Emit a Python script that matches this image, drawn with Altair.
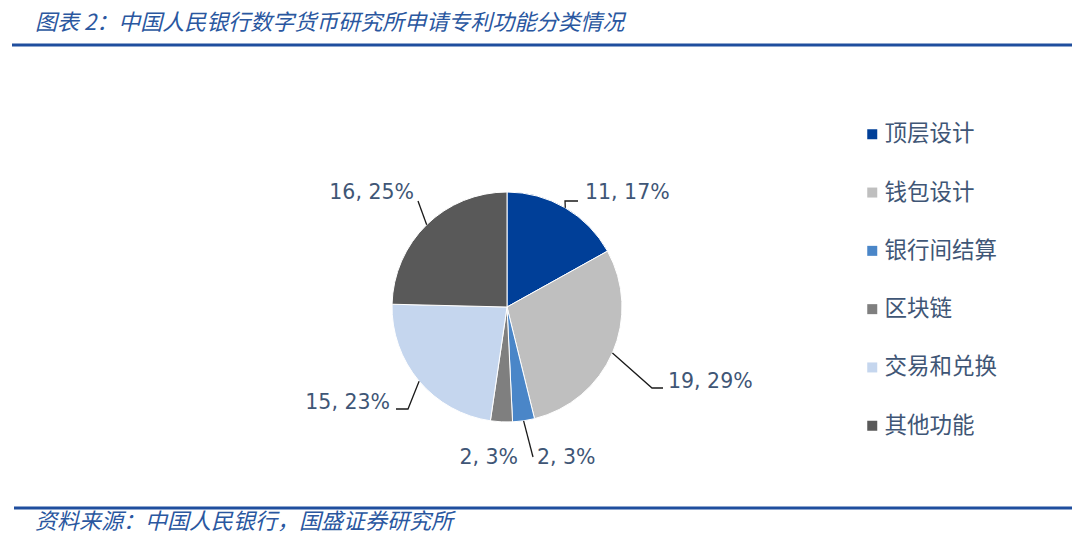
import altair as alt
import pandas as pd
import math

# ---- data ----
categories = ["顶层设计", "钱包设计", "银行间结算", "区块链", "交易和兑换", "其他功能"]
counts = [11, 19, 2, 2, 15, 16]
colors = ["#003F98", "#BFBFBF", "#4A86C8", "#7F7F7F", "#C5D6EE", "#595959"]

title_text = "图表 2：中国人民银行数字货币研究所申请专利功能分类情况"
source_text = "资料来源：中国人民银行，国盛证券研究所"

# ---- layout (pixels, chart coordinates) ----
W, H = 1064, 534
CX, CY, R = 499, 299, 115
TEXT_COLOR = "#3F5676"
BLUE = "#1F4E9E"

# label layout per slice: text anchor offset from pie centre, alignment,
# leader-line elbow and end offsets (None = no leader line)
label_layout = [
    dict(tx=78, ty=-114, align="left", elbow=(58, -106), end=(71, -106)),
    dict(tx=161, ty=75, align="left", elbow=(145, 81), end=(156, 81)),
    dict(tx=30, ty=151, align="left", elbow=(26, 150), end=(26, 150)),
    dict(tx=11, ty=151, align="right", elbow=None, end=None),
    dict(tx=-117, ty=96, align="right", elbow=(-99, 102), end=(-111, 102)),
    dict(tx=-93, ty=-114, align="right", elbow=(-89, -106), end=(-89, -106)),
]

total = sum(counts)
df = pd.DataFrame({"cat": categories, "value": counts, "idx": range(len(categories))})

labels, lines = [], []
cum = 0
for i, (c, v) in enumerate(zip(categories, counts)):
    mid = (cum + v / 2) / total * 2 * math.pi
    cum += v
    lay = label_layout[i]
    labels.append(dict(cat=c, text=f"{v}, {round(v / total * 100)}%",
                       x=CX + lay["tx"], y=CY + lay["ty"], align=lay["align"]))
    if lay["elbow"] is not None:
        sx, sy = CX + R * math.sin(mid), CY - R * math.cos(mid)
        pts = [(sx, sy), (CX + lay["elbow"][0], CY + lay["elbow"][1]),
               (CX + lay["end"][0], CY + lay["end"][1])]
        for k, (px, py) in enumerate(pts):
            lines.append(dict(seg=c, k=k, x=px, y=py))

lab_df = pd.DataFrame(labels)
line_df = pd.DataFrame(lines)

pie = alt.Chart(df).mark_arc(outerRadius=R, stroke="white", strokeWidth=1).encode(
    theta=alt.Theta("value:Q", stack=True),
    order=alt.Order("idx:Q"),
    color=alt.Color(
        "cat:N",
        scale=alt.Scale(domain=categories, range=colors),
        legend=alt.Legend(
            orient="none", legendX=853, legendY=115, title=None,
            symbolType="square", symbolSize=100, symbolStrokeWidth=0,
            labelFont="Noto Sans CJK SC", labelFontSize=22.5, labelColor=TEXT_COLOR,
            labelOffset=1, rowPadding=35.3, padding=0,
        ),
    ),
    x=alt.value(CX),
    y=alt.value(CY),
)

leader = alt.Chart(line_df).mark_line(color="#1a1a1a", strokeWidth=1.3).encode(
    x=alt.X("x:Q", scale=None, axis=None),
    y=alt.Y("y:Q", scale=None, axis=None),
    detail="seg:N",
    order="k:Q",
)

def label_layer(align):
    return alt.Chart(lab_df).transform_filter(alt.datum.align == align).mark_text(
        align=align, baseline="middle", font="DejaVu Sans", fontSize=20.5, color=TEXT_COLOR
    ).encode(
        x=alt.X("x:Q", scale=None, axis=None),
        y=alt.Y("y:Q", scale=None, axis=None),
        text="text:N",
    )

title = alt.Chart(pd.DataFrame({"t": [title_text]})).mark_text(
    align="left", baseline="middle", font="Noto Sans CJK SC", fontSize=22,
    fontStyle="italic", color="#2A57A0",
).encode(x=alt.value(27), y=alt.value(15), text="t:N")

footer = alt.Chart(pd.DataFrame({"t": [source_text]})).mark_text(
    align="left", baseline="middle", font="Noto Sans CJK SC", fontSize=22,
    fontStyle="italic", color="#2A57A0",
).encode(x=alt.value(27), y=alt.value(514), text="t:N")

top_rule = alt.Chart(pd.DataFrame({"a": [0]})).mark_rule(color=BLUE, strokeWidth=3).encode(
    x=alt.value(4), x2=alt.value(W), y=alt.value(37)
)
bottom_rule = alt.Chart(pd.DataFrame({"a": [0]})).mark_rule(color=BLUE, strokeWidth=3).encode(
    x=alt.value(6), x2=alt.value(W), y=alt.value(500)
)

chart = alt.layer(
    pie, leader, label_layer("left"), label_layer("right"),
    title, footer, top_rule, bottom_rule
).properties(
    width=W, height=H, autosize=alt.AutoSizeParams(type="none"), padding=0,
    background="white",
).configure_view(stroke="transparent", strokeWidth=0)

chart.save("out.html", embed_options={"renderer": "svg", "actions": False})
